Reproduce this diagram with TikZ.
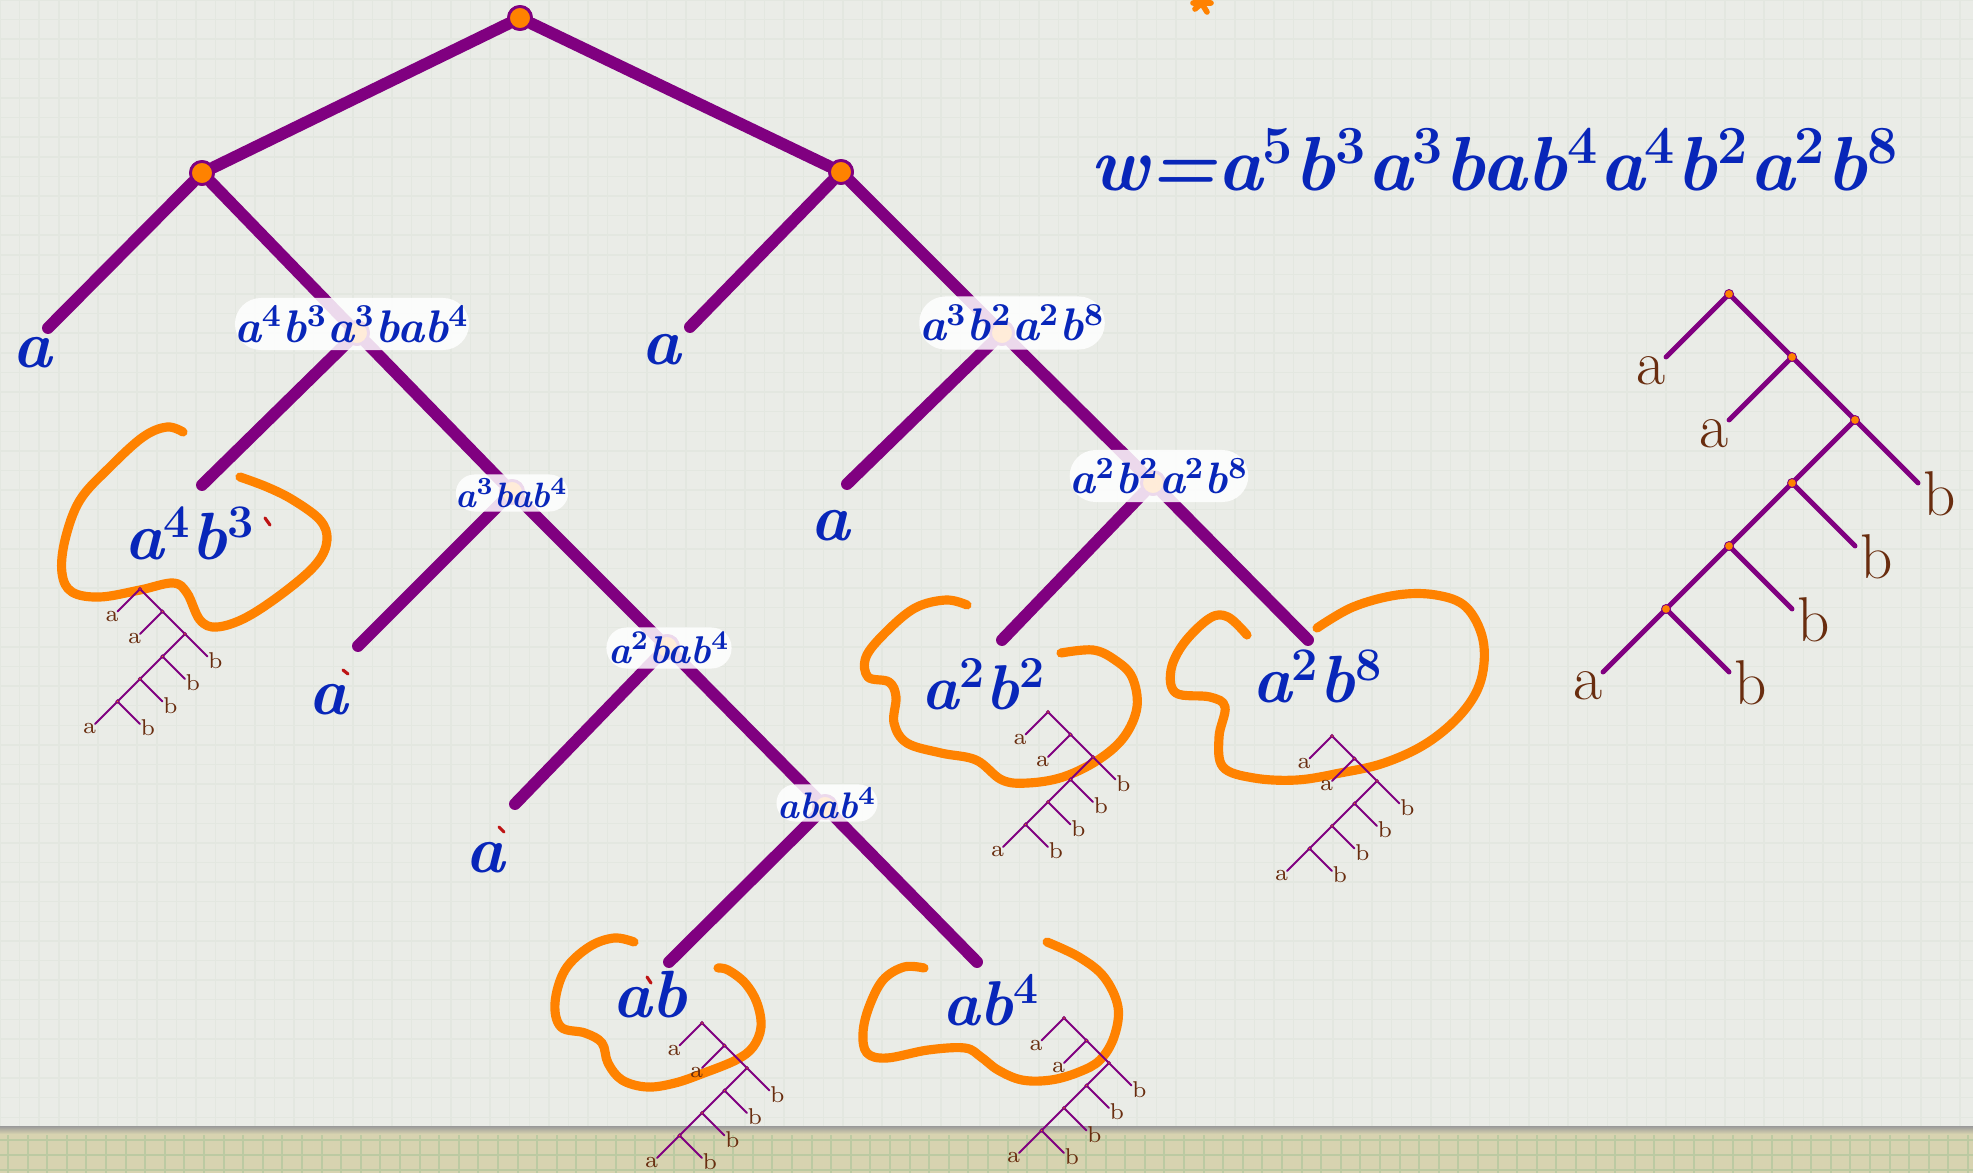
\documentclass[tikz,border=0pt]{standalone}
\usepackage{fontspec}
\usetikzlibrary{calc}
\definecolor{tpurple}{RGB}{128,0,128}
\definecolor{torange}{RGB}{255,130,0}
\definecolor{tblue}{RGB}{8,38,185}
\definecolor{tbrown}{RGB}{105,45,15}
\definecolor{paper}{RGB}{234,236,231}
\definecolor{paperline}{RGB}{227,231,224}
\definecolor{strip}{RGB}{215,211,176}
\definecolor{stripline}{RGB}{188,202,162}
\definecolor{tred}{RGB}{190,20,20}
\newcommand{\hw}[2]{{\fontsize{#1}{#1}\selectfont\bfseries\itshape #2}}
\newcommand{\su}[1]{\textsuperscript{\upshape #1}}
\tikzset{
  mainedge/.style={draw=tpurple, line width=3.4pt, line cap=round},
  maindot/.style={circle, fill=torange, draw=tpurple, line width=0.8pt, minimum size=0.23cm, inner sep=0pt},
  bubble/.style={fill=white, fill opacity=0.85, text opacity=1, inner sep=0pt},
  leaflabel/.style={text=tblue, inner sep=0pt},
  blob/.style={draw=torange, line width=2.6pt, line cap=round, line join=round},
  redtick/.style={draw=tred, line width=0.9pt, line cap=round},
  tlabel/.style={text=tbrown, inner sep=0pt},
}
\newcommand{\mytree}[6]{%
\begin{scope}[shift={(#2,#3)}, scale=#4]
 \coordinate (#1n1) at (0,0);
 \coordinate (#1n2) at (63,63);
 \coordinate (#1n3) at (126,126);
 \coordinate (#1n4) at (63,189);
 \coordinate (#1n5) at (0,252);
 \coordinate (#1n6) at (-63,315);
 \coordinate (#1l1) at (-63,63);
 \coordinate (#1l2) at (0,126);
 \coordinate (#1l3) at (189,189);
 \coordinate (#1l4) at (126,252);
 \coordinate (#1l5) at (63,315);
 \coordinate (#1l6) at (-126,378);
 \coordinate (#1l7) at (0,378);
 \draw[draw=tpurple, line width=#6, line cap=round]
   (#1l1) -- (#1n1) -- (#1n3) -- (#1l3)
   (#1l2) -- (#1n2)
   (#1n3) -- (#1n6) -- (#1l6)
   (#1n4) -- (#1l4)
   (#1n5) -- (#1l5)
   (#1n6) -- (#1l7);
 \foreach \k in {1,...,6} \fill[torange, draw=tpurple, line width=0.25pt] (#1n\k) circle (4.5);
 \node[tlabel, font={\fontsize{#5}{#5}\selectfont}] (#1t1) at (-78,77) {a};
 \node[tlabel, font={\fontsize{#5}{#5}\selectfont}] (#1t2) at (-15,140) {a};
 \node[tlabel, font={\fontsize{#5}{#5}\selectfont}] (#1t3) at (211,200) {b};
 \node[tlabel, font={\fontsize{#5}{#5}\selectfont}] (#1t4) at (148,263) {b};
 \node[tlabel, font={\fontsize{#5}{#5}\selectfont}] (#1t5) at (85,326) {b};
 \node[tlabel, font={\fontsize{#5}{#5}\selectfont}] (#1t6) at (-141,392) {a};
 \node[tlabel, font={\fontsize{#5}{#5}\selectfont}] (#1t7) at (22,389) {b};
\end{scope}}
\begin{document}
\begin{tikzpicture}[x=0.01cm, y=-0.01cm]
\useasboundingbox (0,0) rectangle (1973,1173);
\begin{scope}
\clip (0,0) rectangle (1973,1173);
% paper
\fill[paper] (0,0) rectangle (1973,1173);
\foreach \i in {0,...,101} \draw[paperline, line width=0.4pt] (\i*19.6,0) -- (\i*19.6,1128);
\foreach \j in {0,...,57} \draw[paperline, line width=0.4pt] (0,\j*19.6) -- (1973,\j*19.6);
\fill[strip] (0,1128) rectangle (1973,1173);
\foreach \i in {0,...,101} \draw[stripline, line width=0.6pt] (\i*19.6+8,1128) -- (\i*19.6+8,1173);
\foreach \j in {0,1,2} \draw[stripline, line width=0.6pt] (0,1140+\j*15) -- (1973,1140+\j*15);
\shade[top color=gray!80, bottom color=strip] (0,1126) rectangle (1973,1134);
% orange asterisk at the cut top edge
\draw[torange, line width=1.6pt, line cap=round] (1197,-4) -- (1207,12) (1208,-2) -- (1195,9) (1193,3) -- (1211,3);
\end{scope}

% main tree nodes
\node[maindot] (root) at (520,18) {};
\node[maindot] (L) at (202,173) {};
\node[maindot] (R) at (841,172) {};
\node[maindot] (J1) at (357,333) {};
\node[maindot] (J2) at (512,492) {};
\node[maindot] (J3) at (667,647) {};
\node[maindot] (J4) at (825,807) {};
\node[maindot] (J5) at (1002,333) {};
\node[maindot] (J6) at (1153,483) {};
\coordinate (e1) at (48,328);
\coordinate (e2) at (202,485);
\coordinate (e3) at (358,646);
\coordinate (e4) at (515,804);
\coordinate (e5) at (669,962);
\coordinate (e6) at (977,962);
\coordinate (e7) at (690,327);
\coordinate (e8) at (847,484);
\coordinate (e9) at (1002,640);
\coordinate (e10) at (1308,640);

\draw[mainedge] (root) -- (L);
\draw[mainedge] (root) -- (R);
\draw[mainedge] (L) -- (e1);
\draw[mainedge] (L) -- (J1);
\draw[mainedge] (J1) -- (e2);
\draw[mainedge] (J1) -- (J2);
\draw[mainedge] (J2) -- (e3);
\draw[mainedge] (J2) -- (J3);
\draw[mainedge] (J3) -- (e4);
\draw[mainedge] (J3) -- (J4);
\draw[mainedge] (J4) -- (e5);
\draw[mainedge] (J4) -- (e6);
\draw[mainedge] (R) -- (e7);
\draw[mainedge] (R) -- (J5);
\draw[mainedge] (J5) -- (e8);
\draw[mainedge] (J5) -- (J6);
\draw[mainedge] (J6) -- (e9);
\draw[mainedge] (J6) -- (e10);
\foreach \n in {root,L,R,J1,J2,J3,J4,J5,J6} \node[maindot] at (\n) {};

% bubbles
\node[bubble, minimum width=2.11cm, minimum height=0.52cm, rounded corners=0.26cm] (B1) at (352,324) {\textcolor{tblue}{\hw{13pt}{a\su{4}b\su{3}a\su{3}bab\su{4}}}};
\node[bubble, minimum width=1.11cm, minimum height=0.37cm, rounded corners=0.185cm] (B2) at (512,493) {\textcolor{tblue}{\hw{10pt}{a\su{3}bab\su{4}}}};
\node[bubble, minimum width=1.25cm, minimum height=0.41cm, rounded corners=0.2cm] (B3) at (669,648) {\textcolor{tblue}{\hw{11pt}{a\su{2}bab\su{4}}}};
\node[bubble, minimum width=1.01cm, minimum height=0.37cm, rounded corners=0.185cm] (B4) at (827,803) {\textcolor{tblue}{\hw{10.5pt}{abab\su{4}}}};
\node[bubble, minimum width=1.71cm, minimum height=0.53cm, rounded corners=0.26cm] (B5) at (1012,323) {\textcolor{tblue}{\hw{13pt}{a\su{3}b\su{2}a\su{2}b\su{8}}}};
\node[bubble, minimum width=1.68cm, minimum height=0.52cm, rounded corners=0.26cm] (B6) at (1159,476) {\textcolor{tblue}{\hw{12.5pt}{a\su{2}b\su{2}a\su{2}b\su{8}}}};

% leaf labels
\node[leaflabel] (A1) at (32,353) {\hw{19pt}{a}};
\node[leaflabel] (A2) at (190,533) {\hw{19pt}{a\su{4}b\su{3}}};
\node[leaflabel] (A3) at (328,700) {\hw{19pt}{a}};
\node[leaflabel] (A4) at (485,858) {\hw{19pt}{a}};
\node[leaflabel] (A5) at (650,995) {\hw{19pt}{ab}};
\node[leaflabel] (A6) at (991,1000) {\hw{18pt}{ab\su{4}}};
\node[leaflabel] (A7) at (661,350) {\hw{19pt}{a}};
\node[leaflabel] (A8) at (830,526) {\hw{19pt}{a}};
\node[leaflabel] (A9) at (984,684) {\hw{18pt}{a\su{2}b\su{2}}};
\node[leaflabel] (A10) at (1318,676) {\hw{19pt}{a\su{2}b\su{8}}};

% formula
\node[anchor=base west, text=tblue, inner sep=0pt] (formula) at (1090,190) {\hw{21.8pt}{w=a\su{5}b\su{3}a\su{3}bab\su{4}a\su{4}b\su{2}a\su{2}b\su{8}}};

% red ticks
\draw[redtick] (265,518) -- (270,525);
\draw[redtick] (343,670) -- (348,674);
\draw[redtick] (499,827) -- (504,832);
\draw[redtick] (647,977) -- (651,983);

% orange blobs
\draw[blob] plot[smooth, tension=0.6] coordinates {(183,432) (167,427) (143,437) (110,467) (80,500) (65,540) (62,573) (72,592) (100,597) (140,590) (173,583) (187,593) (200,620) (217,627) (247,617) (287,590) (317,563) (327,540) (320,520) (293,500) (267,487) (240,477)};
\draw[blob] plot[smooth, tension=0.6] coordinates {(967,605) (946,600) (915,608) (885,633) (866,657) (868,677) (889,682) (896,697) (894,723) (907,743) (941,753) (976,760) (1002,780) (1028,783) (1063,777) (1098,760) (1124,737) (1137,707) (1132,677) (1115,660) (1093,650) (1061,653)};
\draw[blob] plot[smooth, tension=0.6] coordinates {(1247,635) (1228,617) (1210,618) (1184,643) (1171,670) (1176,693) (1210,697) (1225,707) (1219,737) (1223,767) (1254,778) (1297,780) (1340,773) (1384,763) (1427,743) (1462,713) (1481,680) (1483,640) (1466,607) (1436,595) (1397,595) (1353,607) (1317,628)};
\draw[blob] plot[smooth, tension=0.6] coordinates {(634,942) (614,938) (589,947) (565,970) (555,1003) (561,1027) (585,1033) (602,1043) (608,1063) (622,1080) (647,1087) (675,1083) (704,1073) (736,1060) (753,1047) (761,1027) (757,1003) (745,983) (728,970) (718,968)};
\draw[blob] plot[smooth, tension=0.6] coordinates {(924,968) (904,967) (883,980) (869,1007) (863,1033) (867,1053) (887,1058) (928,1050) (965,1048) (981,1057) (998,1070) (1022,1080) (1051,1080) (1079,1072) (1100,1060) (1114,1037) (1118,1007) (1104,977) (1079,957) (1047,942)};

% small trees
\mytree{big}{1729}{294}{1}{18pt}{1.4pt}
\mytree{sa}{140}{589}{0.357}{6.5pt}{0.55pt}
\mytree{sb}{1048}{712}{0.357}{6.5pt}{0.55pt}
\mytree{sc}{1332}{736}{0.357}{6.5pt}{0.55pt}
\mytree{sd}{702}{1023}{0.357}{6.5pt}{0.55pt}
\mytree{se}{1064}{1018}{0.357}{6.5pt}{0.55pt}
\end{tikzpicture}
\end{document}
